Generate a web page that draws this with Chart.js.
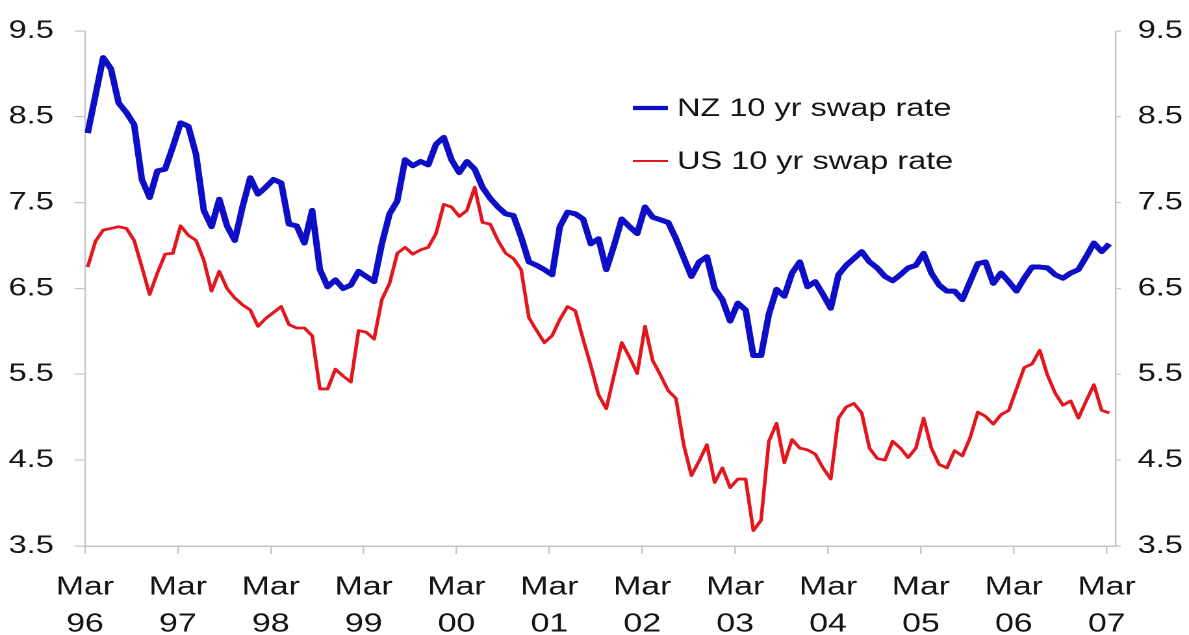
<!DOCTYPE html>
<html>
<head>
<meta charset="utf-8">
<script src="https://cdn.jsdelivr.net/npm/chart.js@4/dist/chart.umd.min.js"></script>
<style>
  html, body { margin: 0; padding: 0; background: #fff; }
  /* the source picture is stretched sideways, so the canvas is drawn narrow and widened */
  #swapChart { display: block; }
</style>
</head>
<body>
<canvas id="swapChart" width="915" height="635" style="width:1189px;height:635px"></canvas>
<script>
// monthly readings, Mar 96 .. Mar 07
const nzSwap = [
  8.31, 8.75, 9.19, 9.06, 8.66, 8.55, 8.41, 7.77, 7.56, 7.87, 7.89, 8.15,
  8.43, 8.39, 8.06, 7.41, 7.22, 7.54, 7.23, 7.06, 7.45, 7.79, 7.60, 7.68,
  7.77, 7.73, 7.25, 7.23, 7.03, 7.41, 6.72, 6.52, 6.60, 6.50, 6.54, 6.70,
  6.64, 6.58, 7.02, 7.37, 7.52, 8.00, 7.93, 7.98, 7.94, 8.18, 8.26, 8.00,
  7.85, 7.98, 7.89, 7.68, 7.55, 7.45, 7.37, 7.35, 7.10, 6.81, 6.77, 6.72,
  6.66, 7.22, 7.39, 7.37, 7.31, 7.02, 7.08, 6.72, 7.00, 7.31, 7.22, 7.14,
  7.45, 7.33, 7.30, 7.27, 7.08, 6.86, 6.64, 6.81, 6.87, 6.50, 6.37, 6.12,
  6.33, 6.25, 5.72, 5.72, 6.20, 6.49, 6.41, 6.68, 6.81, 6.52, 6.58, 6.43,
  6.27, 6.66, 6.77, 6.85, 6.93, 6.81, 6.74, 6.64, 6.59, 6.66, 6.74, 6.77,
  6.91, 6.68, 6.54, 6.47, 6.47, 6.37, 6.58, 6.79, 6.81, 6.56, 6.68, 6.58,
  6.47, 6.62, 6.75, 6.75, 6.74, 6.66, 6.62, 6.68, 6.72, 6.87, 7.03, 6.93,
  7.02
];
const usSwap = [
  6.75, 7.05, 7.18, 7.20, 7.22, 7.20, 7.06, 6.75, 6.43, 6.68, 6.90, 6.91,
  7.23, 7.12, 7.06, 6.83, 6.47, 6.70, 6.50, 6.39, 6.31, 6.25, 6.06, 6.15,
  6.22, 6.29, 6.08, 6.04, 6.04, 5.95, 5.33, 5.33, 5.56, 5.48, 5.41, 6.01,
  5.99, 5.91, 6.37, 6.56, 6.91, 6.98, 6.90, 6.95, 6.98, 7.14, 7.48, 7.45,
  7.34, 7.41, 7.68, 7.27, 7.25, 7.06, 6.91, 6.85, 6.72, 6.16, 6.01, 5.87,
  5.95, 6.14, 6.29, 6.24, 5.91, 5.60, 5.26, 5.10, 5.49, 5.87, 5.70, 5.51,
  6.06, 5.66, 5.49, 5.31, 5.22, 4.68, 4.32, 4.49, 4.68, 4.24, 4.41, 4.18,
  4.28, 4.28, 3.68, 3.80, 4.72, 4.93, 4.47, 4.74, 4.64, 4.62, 4.57, 4.41,
  4.28, 4.99, 5.12, 5.16, 5.05, 4.64, 4.52, 4.50, 4.72, 4.64, 4.53, 4.64,
  4.99, 4.64, 4.45, 4.41, 4.61, 4.55, 4.76, 5.06, 5.01, 4.92, 5.03, 5.08,
  5.33, 5.58, 5.62, 5.78, 5.49, 5.28, 5.14, 5.19, 4.99, 5.19, 5.38, 5.08,
  5.05
];
const tickYears = ['96', '97', '98', '99', '00', '01', '02', '03', '04', '05', '06', '07'];
const yTicks = [3.5, 4.5, 5.5, 6.5, 7.5, 8.5, 9.5];

const FONT = '"Liberation Sans", Arial, sans-serif';
const TEXT = '#141414';
const AXIS = '#c4c4c4';
const TICK_SHIFT = -0.35; // year ticks sit a little before the monthly points

const toPoints = arr => arr.map((v, i) => ({ x: i, y: v }));

const insideLegend = {
  id: 'insideLegend',
  afterDatasetsDraw(chart, args, opts) {
    const ctx = chart.ctx;
    ctx.save();
    ctx.font = opts.font;
    ctx.textBaseline = 'middle';
    chart.data.datasets.forEach((ds, i) => {
      const y = opts.y + i * opts.rowGap;
      ctx.strokeStyle = ds.borderColor;
      ctx.lineWidth = ds.borderWidth - 0.8;
      ctx.beginPath();
      ctx.moveTo(opts.x, y);
      ctx.lineTo(opts.x + opts.lineLen, y);
      ctx.stroke();
      ctx.fillStyle = TEXT;
      ctx.fillText(ds.label, opts.x + opts.lineLen + opts.gap, y + 1);
    });
    ctx.restore();
  }
};

const yAxis = (position, tickLen, pad, width) => ({
  type: 'linear',
  position: position,
  min: 3.5,
  max: 9.5,
  afterBuildTicks: s => { s.ticks = yTicks.map(v => ({ value: v })); },
  afterFit: s => { s.width = width; },
  grid: { drawOnChartArea: false, drawTicks: true, tickLength: tickLen, color: AXIS, lineWidth: 1.2 },
  border: { display: true, color: AXIS, width: 1.2 },
  ticks: {
    font: { family: FONT, size: 25 },
    color: TEXT,
    padding: pad,
    callback: v => v.toFixed(1)
  }
});

new Chart(document.getElementById('swapChart'), {
  type: 'line',
  data: {
    datasets: [
      {
        label: 'NZ 10 yr swap rate',
        data: toPoints(nzSwap),
        borderColor: '#0e0ec6',
        borderWidth: 5,
        pointRadius: 0,
        tension: 0,
        borderJoinStyle: 'round',
        yAxisID: 'y'
      },
      {
        label: 'US 10 yr swap rate',
        data: toPoints(usSwap),
        borderColor: '#e3161e',
        borderWidth: 2.8,
        pointRadius: 0,
        tension: 0,
        borderJoinStyle: 'round',
        yAxisID: 'y'
      }
    ]
  },
  options: {
    responsive: false,
    devicePixelRatio: 2,
    animation: false,
    layout: { padding: { top: 25, left: 2, right: 0, bottom: 0 } },
    plugins: {
      legend: { display: false },
      tooltip: { enabled: false },
      insideLegend: {
        x: 487, y: 108, rowGap: 53, lineLen: 27, gap: 7,
        font: '25px ' + FONT
      }
    },
    scales: {
      x: {
        type: 'linear',
        min: -0.35,
        max: 132.8,
        afterBuildTicks: s => { s.ticks = tickYears.map((_, i) => ({ value: i * 12 + TICK_SHIFT })); },
        afterFit: s => { s.height = 89; },
        grid: { drawOnChartArea: false, drawTicks: true, tickLength: 8, color: AXIS, lineWidth: 1.2 },
        border: { display: true, color: AXIS, width: 1.5 },
        ticks: {
          autoSkip: false,
          maxRotation: 0,
          padding: 15,
          font: { family: FONT, size: 26, lineHeight: 1.42 },
          color: TEXT,
          callback: (v, i) => ['Mar', tickYears[i]]
        }
      },
      y: yAxis('left', 8, 16, 63.4),
      y2: yAxis('right', 4, 13, 56.5)
    }
  },
  plugins: [insideLegend]
});
</script>
</body>
</html>
